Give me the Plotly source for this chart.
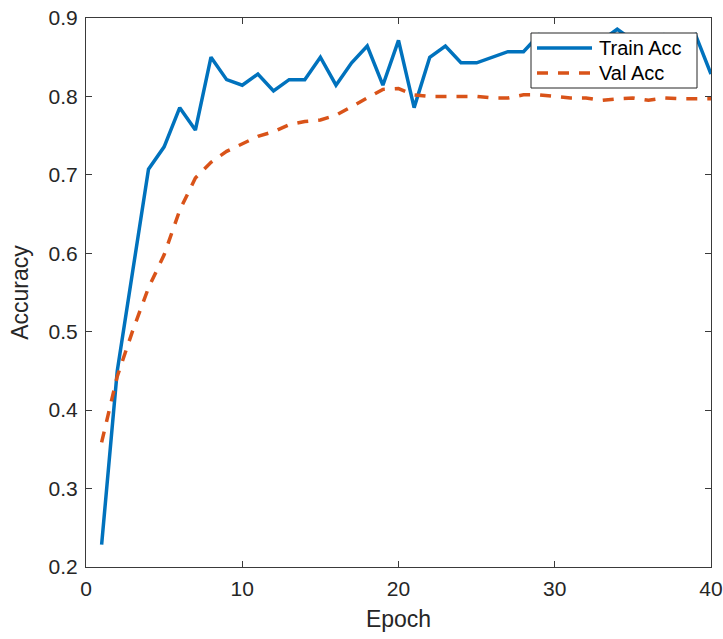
import plotly.graph_objects as go

# Training history: accuracy per epoch
epochs = list(range(1, 41))
train_acc = [
    0.2286, 0.4500, 0.5786, 0.7071, 0.7357, 0.7857, 0.7571, 0.8500, 0.8214, 0.8143,
    0.8286, 0.8071, 0.8214, 0.8214, 0.8500, 0.8143, 0.8429, 0.8643, 0.8143, 0.8714,
    0.7857, 0.8500, 0.8643, 0.8429, 0.8429, 0.8500, 0.8571, 0.8571, 0.8786, 0.8643,
    0.8571, 0.8714, 0.8714, 0.8857, 0.8714, 0.8643, 0.8786, 0.8714, 0.8790, 0.8286,
]
val_acc = [
    0.359, 0.443, 0.502, 0.556, 0.598, 0.655, 0.696, 0.716, 0.730, 0.740,
    0.749, 0.755, 0.764, 0.768, 0.770, 0.776, 0.787, 0.799, 0.809, 0.810,
    0.802, 0.800, 0.800, 0.801, 0.800, 0.798, 0.798, 0.802, 0.802, 0.800,
    0.798, 0.798, 0.795, 0.797, 0.798, 0.795, 0.798, 0.797, 0.797, 0.797,
]
series_names = ["Train Acc", "Val Acc"]
x_ticks = [0, 10, 20, 30, 40]
y_ticks = [0.2, 0.3, 0.4, 0.5, 0.6, 0.7, 0.8, 0.9]

BLUE = "#0072BD"
ORANGE = "#D95319"
TEXT = "#262626"
AXIS = "#3a3a3a"
FONT = "Liberation Sans, Arial, Helvetica, sans-serif"
DASH = "11px,10px"
LW = 3.5

W, H = 723, 639
M = dict(l=86, r=12, t=18, b=72)
plot_w = W - M["l"] - M["r"]
plot_h = H - M["t"] - M["b"]


def px_x(px):
    """Pixel column -> paper x."""
    return (px - M["l"]) / plot_w


def px_y(py):
    """Pixel row -> paper y."""
    return (H - M["b"] - py) / plot_h


fig = go.Figure()
fig.add_trace(go.Scatter(
    x=epochs, y=train_acc, mode="lines", name=series_names[0],
    line=dict(color=BLUE, width=LW),
))
fig.add_trace(go.Scatter(
    x=epochs, y=val_acc, mode="lines", name=series_names[1],
    line=dict(color=ORANGE, width=LW, dash=DASH),
))

# Boxed legend in the upper-right corner, drawn over the curves
box_l, box_r, box_t, box_b = 531, 697, 33, 88
rows = [48, 73]
sample_l, sample_r, text_l = 537, 592, 597
shapes = [dict(
    type="rect", xref="paper", yref="paper", layer="above",
    x0=px_x(box_l), x1=px_x(box_r), y0=px_y(box_b), y1=px_y(box_t),
    fillcolor="white", line=dict(color=TEXT, width=1),
)]
annotations = []
for name, color, dash, row in zip(series_names, [BLUE, ORANGE], ["solid", DASH], rows):
    shapes.append(dict(
        type="line", xref="paper", yref="paper", layer="above",
        x0=px_x(sample_l), x1=px_x(sample_r), y0=px_y(row), y1=px_y(row),
        line=dict(color=color, width=LW, dash=dash),
    ))
    annotations.append(dict(
        xref="paper", yref="paper", x=px_x(text_l), y=px_y(row),
        xanchor="left", yanchor="middle", showarrow=False, text=name,
        font=dict(family=FONT, size=20, color="black"),
    ))

axis_common = dict(
    showline=True, linecolor=AXIS, linewidth=1, mirror="ticks",
    ticks="inside", ticklen=6, tickwidth=1, tickcolor=AXIS,
    showgrid=False, zeroline=False, automargin=False,
    tickfont=dict(family=FONT, size=21, color=TEXT),
)

fig.update_layout(
    width=W, height=H,
    margin=dict(**M, autoexpand=False),
    paper_bgcolor="white", plot_bgcolor="white",
    font=dict(family=FONT, color=TEXT),
    showlegend=False,
    shapes=shapes,
    annotations=annotations,
)
fig.update_xaxes(
    range=[0, 40], tickvals=x_ticks, ticktext=[str(v) for v in x_ticks],
    ticklabelstandoff=3,
    title=dict(text="Epoch", font=dict(family=FONT, size=23, color=TEXT), standoff=11),
    **axis_common,
)
fig.update_yaxes(
    range=[0.2, 0.9], tickvals=y_ticks, ticktext=[f"{v:.1f}" for v in y_ticks],
    ticklabelstandoff=3,
    title=dict(text="Accuracy", font=dict(family=FONT, size=23, color=TEXT), standoff=13),
    **axis_common,
)

fig.write_html("out.html")
